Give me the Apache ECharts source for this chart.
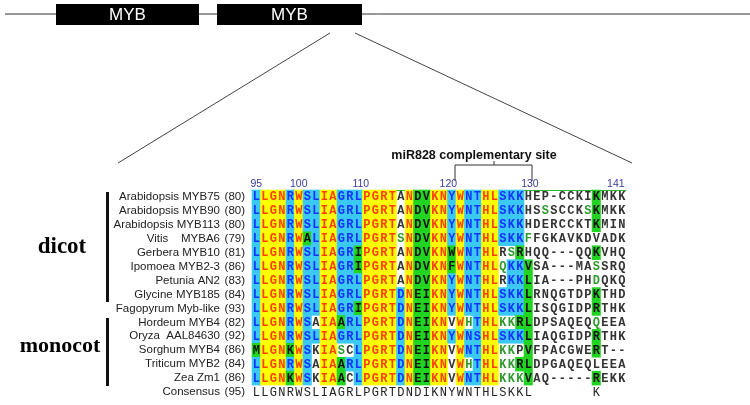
<!DOCTYPE html>
<html><head><meta charset="utf-8">
<script src="https://cdn.jsdelivr.net/npm/echarts@6/dist/echarts.min.js"></script>
<style>html,body{margin:0;padding:0;background:#fff}#c{width:750px;height:405px}</style>
</head><body><div id="c"></div>
<script>
// ---- data ----
const rowNames = ['Arabidopsis MYB75', 'Arabidopsis MYB90', 'Arabidopsis MYB113', 'Vitis    MYBA6',
  'Gerbera MYB10', 'Ipomoea MYB2-3', 'Petunia AN2', 'Glycine MYB185', 'Fagopyrum Myb-like',
  'Hordeum MYB4', 'Oryza  AAL84630', 'Sorghum MYB4', 'Triticum MYB2', 'Zea Zm1', 'Consensus'];
const startPos = [80, 80, 80, 79, 81, 86, 83, 84, 93, 82, 92, 86, 84, 86, 95];
const sequences = [
  'LLGNRWSLIAGRLPGRTANDVKNYWNTHLSKKHEP-CCKIKMKK',
  'LLGNRWSLIAGRLPGRTANDVKNYWNTHLSKKHSSSCCKSKMKK',
  'LLGNRWSLIAGRLPGRTANDVKNYWNTHLSKKHDERCCKTKMIN',
  'LLGNRWALIAGRLPGRTSNDVKNYWNTHLSKKFFGKAVKDVADK',
  'LLGNRWSLIAGRIPGRTANDVKNWWNTHLRSRHQQ---QQKVHQ',
  'LLGNRWSLIAGRIPGRTANDVKNFWNTHLQKKVSA---MASSRQ',
  'LLGNRWSLIAGRLPGRTANDVKNYWNTHLRKKLIA---PHDQKQ',
  'LLGNRWSLIAGRLPGRTDNEIKNYWNTHLSKKLRNQGTDPKTHD',
  'LLGNRWSLIAGRIPGRTDNEIKNYWNTHLSKKLISQGIDPRTHK',
  'LLGNRWSAIAARLPGRTDNEIKNVWHTHLKKRLDPSAQEQQEEA',
  'LLGNRWSLIAGRLPGRTDNEIKNYWNSHLSKKLIAQGIDPRTHK',
  'MLGNKWSKIASCLPGRTDNEIKNVWNTHLKKPVFPACGWERT--',
  'LLGNRWSAIAARLPGRTDNEIKNVWHTHLKKRLDPGAQEQLEEA',
  'LLGNKWSKIAACLPGRTDNEIKNVWNTHLKKKVAQ-----REKK',
  'LLGNRWSLIAGRLPGRTDNDIKNYWNTHLSKKL       K   '
];
// conservation class per column: y identical, c conserved, g similar, l weakly similar, w non-similar
const columnClass = 'cyyycyccyyccc' + 'yyyywyggyycyccyycccg' + 'wwwwwwwgwww';
const classOverrides = [
  {32: 'w'},
  {32: 'w', 34: 'l', 39: 'l'},
  {32: 'w'},
  {6: 'g', 17: 'l', 32: 'l', 40: 'w'},
  {12: 'g', 23: 'g', 29: 'w', 30: 'l', 31: 'g', 32: 'w'},
  {12: 'g', 23: 'g', 29: 'l', 40: 'l'},
  {29: 'w', 40: 'l'},
  {17: 'c'},
  {12: 'g', 17: 'c'},
  {7: 'w', 10: 'g', 17: 'c', 23: 'w', 25: 'l', 29: 'l', 30: 'l', 31: 'g', 40: 'l'},
  {17: 'c'},
  {0: 'g', 4: 'g', 7: 'w', 10: 'l', 11: 'w', 17: 'c', 23: 'w', 29: 'l', 30: 'l', 31: 'w'},
  {7: 'w', 10: 'g', 17: 'c', 23: 'w', 25: 'l', 29: 'l', 30: 'l', 31: 'g', 40: 'w'},
  {4: 'g', 7: 'w', 10: 'g', 11: 'w', 17: 'c', 23: 'w', 29: 'l', 30: 'l', 31: 'l'},
  {}
];
const tickLabels = ['95', '100', '110', '120', '130', '141'];
const tickColumns = [0, 5, 12.3, 22.6, 32.2, 42.3];

// ---- build ----
const nCols = sequences[0].length;
const consensusRow = sequences.length - 1;
const cellData = [];
sequences.forEach((seq, r) => {
  for (let c = 0; c < seq.length; c++) {
    const ch = seq[c];
    if (ch === ' ') continue;
    let cls = r === consensusRow ? 'k' : (classOverrides[r][c] || columnClass[c]);
    if (ch === '-') cls = 'w';
    cellData.push([c, r, ch, cls]);
  }
});
const palette = {
  y: {bg: '#ffff00', fg: '#ff4000'},
  c: {bg: '#3ac8f4', fg: '#1433ff'},
  g: {bg: '#22d422', fg: '#111111'},
  l: {bg: null, fg: '#2f9a2f'},
  w: {bg: null, fg: '#333333'},
  k: {bg: null, fg: '#222222', normal: true}
};
const letterFont = 'bold 12px "Liberation Mono", "Courier New", monospace';
const consFont = '12px "Liberation Mono", "Courier New", monospace';

const chart = echarts.init(document.getElementById('c'), null, {renderer: 'canvas'});
chart.setOption({
  animation: false,
  backgroundColor: '#ffffff',
  grid: {left: 252, top: 190, width: 374, height: 209},
  xAxis: {
    type: 'value', min: -0.5, max: nCols - 0.5, position: 'top',
    axisLine: {show: true, lineStyle: {color: '#2ab82a', width: 1}},
    axisTick: {show: false}, axisLabel: {show: false}, splitLine: {show: false}
  },
  yAxis: {
    type: 'category', inverse: true, data: rowNames,
    axisLine: {show: false}, axisTick: {show: false}, splitLine: {show: false},
    axisLabel: {
      margin: 7, interval: 0, hideOverlap: false,
      formatter: (v, i) => '{n|' + v + '}{p|(' + startPos[i] + ')}',
      rich: {
        n: {fontFamily: '"Liberation Sans", Arial, sans-serif', fontSize: 11.5, color: '#222', padding: [0, 4, 0, 0]},
        p: {fontFamily: '"Liberation Sans", Arial, sans-serif', fontSize: 11.5, color: '#222', width: 21, align: 'right'}
      }
    }
  },
  series: [
    {
      type: 'custom', data: cellData.map(d => [d[0], d[1]]), silent: true,
      renderItem: (params, api) => {
        const d = cellData[params.dataIndex];
        const st = palette[d[3]];
        if (!st.bg) return null;
        const p = api.coord([d[0], d[1]]);
        const s = api.size([1, 1]);
        return {type: 'rect', shape: {x: p[0] - s[0] / 2 - 0.3, y: p[1] - s[1] / 2 - 0.3, width: s[0] + 0.6, height: s[1] + 0.6}, style: {fill: st.bg}};
      }
    },
    {
      type: 'custom', data: cellData.map(d => [d[0], d[1]]), silent: true,
      renderItem: (params, api) => {
        const d = cellData[params.dataIndex];
        const st = palette[d[3]];
        const p = api.coord([d[0], d[1]]);
        return {type: 'text', style: {text: d[2], x: p[0], y: p[1] + 0.5, align: 'center', verticalAlign: 'middle', fill: st.fg, font: st.normal ? consFont : letterFont}};
      }
    },
    {
      type: 'custom', data: tickColumns.map(c => [c, 0]), silent: true,
      renderItem: (params, api) => {
        const p = api.coord([tickColumns[params.dataIndex], 0]);
        const s = api.size([1, 1]);
        return {type: 'text', style: {text: tickLabels[params.dataIndex], x: p[0], y: p[1] - s[1] / 2 - 6, align: 'center', verticalAlign: 'middle', fill: '#3a3a9a', font: '10.5px "Liberation Sans", Arial, sans-serif'}};
      }
    }
  ],
  graphic: [
    {type: 'line', shape: {x1: 5, y1: 14, x2: 750, y2: 14}, style: {stroke: '#333', lineWidth: 1}},
    {type: 'rect', shape: {x: 56, y: 4, width: 143, height: 21}, style: {fill: '#000'}},
    {type: 'text', style: {text: 'MYB', x: 127.5, y: 15, align: 'center', verticalAlign: 'middle', fill: '#fff', font: '17px "Liberation Sans", Arial, sans-serif'}},
    {type: 'rect', shape: {x: 217, y: 4, width: 145, height: 21}, style: {fill: '#000'}},
    {type: 'text', style: {text: 'MYB', x: 289.5, y: 15, align: 'center', verticalAlign: 'middle', fill: '#fff', font: '17px "Liberation Sans", Arial, sans-serif'}},
    {type: 'line', shape: {x1: 330, y1: 33, x2: 118, y2: 163}, style: {stroke: '#444', lineWidth: 1}},
    {type: 'line', shape: {x1: 355, y1: 33, x2: 632, y2: 163}, style: {stroke: '#444', lineWidth: 1}},
    {type: 'text', style: {text: 'miR828 complementary site', x: 474, y: 156, align: 'center', verticalAlign: 'middle', fill: '#111', font: 'bold 12.5px "Liberation Sans", Arial, sans-serif'}},
    {type: 'polyline', shape: {points: [[455, 181], [455, 165], [532, 165], [532, 181]]}, style: {stroke: '#333', lineWidth: 1, fill: null}},
    {type: 'line', shape: {x1: 494, y1: 161, x2: 494, y2: 165}, style: {stroke: '#333', lineWidth: 1}},
    {type: 'rect', shape: {x: 106, y: 192, width: 3, height: 110}, style: {fill: '#111'}},
    {type: 'rect', shape: {x: 106, y: 318, width: 3, height: 68}, style: {fill: '#111'}},
    {type: 'text', style: {text: 'dicot', x: 62, y: 247, align: 'center', verticalAlign: 'middle', fill: '#000', font: 'bold 23px "Liberation Serif", "Times New Roman", serif'}},
    {type: 'text', style: {text: 'monocot', x: 60, y: 346, align: 'center', verticalAlign: 'middle', fill: '#000', font: 'bold 22px "Liberation Serif", "Times New Roman", serif'}}
  ]
});
</script>
</body></html>
